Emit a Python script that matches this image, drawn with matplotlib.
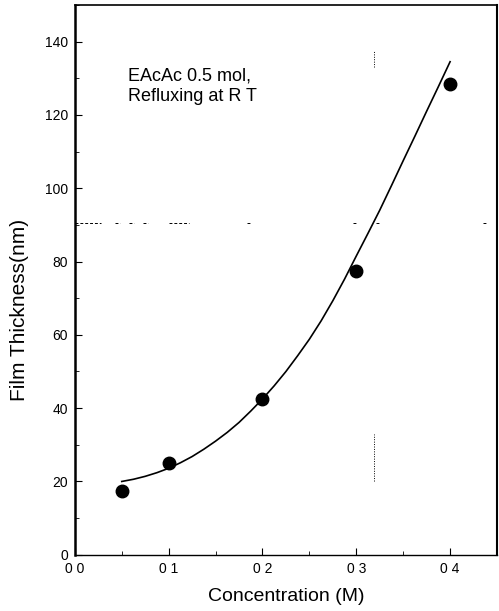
import numpy as np
import matplotlib
matplotlib.use('Agg')
import matplotlib.pyplot as plt
from matplotlib.ticker import MultipleLocator

plt.rcParams['font.family'] = ['Liberation Sans', 'DejaVu Sans']

# measured points
conc = [0.05, 0.1, 0.2, 0.3, 0.4]
thickness = [17.5, 25.0, 42.5, 77.5, 128.5]

# fitted curve
fit_x = [0.05, 0.0625, 0.075, 0.0875, 0.1, 0.1125, 0.125, 0.1375, 0.15, 0.1625,
         0.175, 0.1875, 0.2, 0.2125, 0.225, 0.2375, 0.25, 0.2625, 0.275, 0.2875,
         0.3, 0.3125, 0.325, 0.3375, 0.35, 0.3625, 0.375, 0.3875, 0.4]
fit_y = [20, 20.6, 21.4, 22.4, 23.6, 25.1, 26.8, 28.8, 31, 33.4,
         36.1, 39.2, 42.5, 46.1, 50, 54.3, 58.8, 63.8, 69.3, 75.2,
         81.5, 87.7, 94, 100.7, 107.5, 114.2, 121, 127.7, 134.5]

x_ticks = [0.0, 0.1, 0.2, 0.3, 0.4]
x_ticklabels = ['0 0', '0 1', '0 2', '0 3', '0 4']
y_ticks = [0, 20, 40, 60, 80, 100, 120, 140]

# scan artefacts: broken dotted guide marks
h_marks_y = 90.5
h_marks_x = [(0.0, 0.028), (0.043, 0.048), (0.058, 0.063), (0.073, 0.078),
             (0.100, 0.122), (0.184, 0.188), (0.297, 0.300), (0.321, 0.324),
             (0.435, 0.439)]
v_marks_x = 0.319
v_marks_y = [(133, 137.5), (20, 33)]

fig = plt.figure(figsize=(4.99, 6.11), dpi=100)
ax = fig.add_axes([0.150, 0.092, 0.846, 0.900])

ax.plot(fit_x, fit_y, color='black', lw=1.2)
ax.plot(conc, thickness, 'o', color='black', markersize=9)

for x0, x1 in h_marks_x:
    ax.plot([x0, x1], [h_marks_y, h_marks_y], color='black', lw=0.7, ls=(0, (3, 2)))
for y0, y1 in v_marks_y:
    ax.plot([v_marks_x, v_marks_x], [y0, y1], color='black', lw=0.7, ls=(0, (1, 1.5)))

ax.text(0.0565, 133, 'EAcAc 0.5 mol,\nRefluxing at R T', fontsize=13,
        va='top', ha='left', linespacing=1.3)

ax.set_xlim(0, 0.45)
ax.set_ylim(0, 150)
ax.set_xticks(x_ticks)
ax.set_xticklabels(x_ticklabels)
ax.set_yticks(y_ticks)
ax.xaxis.set_minor_locator(MultipleLocator(0.05))
ax.yaxis.set_minor_locator(MultipleLocator(10))
ax.tick_params(which='both', direction='in', labelsize=10, pad=5)
ax.tick_params(which='major', length=5)
ax.tick_params(which='minor', length=3)

ax.set_xlabel('Concentration (M)', fontsize=14, labelpad=9)
ax.set_ylabel('Film Thickness(nm)', fontsize=15)
ax.yaxis.set_label_coords(-0.108, 0.445)

ax.spines['left'].set_linewidth(1.8)
ax.spines['right'].set_linewidth(1.5)
ax.spines['top'].set_linewidth(1.2)
ax.spines['bottom'].set_linewidth(1.0)

plt.savefig('out.png', dpi=100)
